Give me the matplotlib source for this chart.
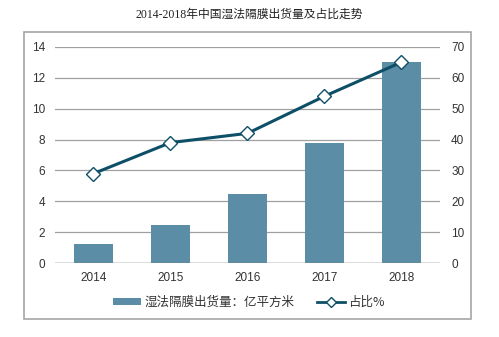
import matplotlib
matplotlib.use("Agg")
import matplotlib.pyplot as plt
from matplotlib.patches import Rectangle
from matplotlib.lines import Line2D
from matplotlib.patches import Patch

years = ["2014", "2015", "2016", "2017", "2018"]
shipments = [1.25, 2.5, 4.5, 7.8, 13.0]
share = [29, 39, 42, 54, 65]
left_ticks = [0, 2, 4, 6, 8, 10, 12, 14]
right_ticks = [0, 10, 20, 30, 40, 50, 60, 70]
title = "2014-2018年中国湿法隔膜出货量及占比走势"
bar_label = "湿法隔膜出货量：亿平方米"
line_label = "占比%"

cjk = ["Noto Sans CJK SC", "DejaVu Sans"]
plt.rcParams['font.family'] = ["Liberation Sans", "Noto Sans CJK SC", "DejaVu Sans"]

fig = plt.figure(figsize=(4.99, 3.37), dpi=100)
fig.patch.set_facecolor("white")

# outer frame
fig.patches.append(Rectangle((24/499, 1-319/337), (471-24)/499, (319-32)/337,
                             transform=fig.transFigure, fill=False,
                             edgecolor="#a6a6a6", linewidth=1.2))

ax = fig.add_axes([55/499, 1-263.3/337, (440-55)/499, (263.3-46.7)/337])
x = list(range(len(years)))
bar_color = "#5b8ea6"
line_color = "#0e4f68"

ax.set_ylim(0, 14)
ax.set_yticks(left_ticks)
ax.yaxis.grid(True, color="#a0a0a0", linewidth=0.9)
ax.set_axisbelow(True)
ax.bar(x, shipments, width=0.5, color=bar_color, zorder=2)
ax.set_xlim(-0.5, len(years)-0.5)
ax.set_xticks(x)
ax.set_xticklabels(years)
for s in ax.spines.values():
    s.set_visible(False)
ax.axhline(0, color="#808080", linewidth=1.0, zorder=3)
ax.tick_params(axis="both", length=0, labelsize=8.5, colors="#333333")
ax.tick_params(axis="x", pad=6)
ax.tick_params(axis="y", pad=7)

ax2 = ax.twinx()
ax2.set_ylim(0, 70)
ax2.set_yticks(right_ticks)
for s in ax2.spines.values():
    s.set_visible(False)
ax2.tick_params(axis="y", length=0, labelsize=8.5, colors="#333333", pad=8)
ax2.plot(x, share, color=line_color, linewidth=2.2, marker="D", markersize=7,
         markerfacecolor="white", markeredgecolor=line_color, markeredgewidth=1.0, zorder=4)

fig.text(0.5, 1-15/337, title, ha="center", va="center", fontsize=8.5,
         family=["Liberation Serif", "Noto Sans CJK SC", "DejaVu Sans"], color="#222222")

handles = [Patch(facecolor=bar_color, edgecolor="none"),
           Line2D([0], [0], color=line_color, linewidth=2, marker="D", markersize=5,
                  markerfacecolor="white", markeredgecolor=line_color)]
leg = fig.legend(handles, [bar_label, line_label], loc="center",
                 bbox_to_anchor=(249/499, 1-302/337), ncol=2, frameon=False,
                 prop={"family": cjk, "size": 9}, handlelength=2.2,
                 handleheight=0.5, columnspacing=1.8, handletextpad=0.3)
for t in leg.get_texts():
    t.set_color("#333333")

fig.savefig("out.png", dpi=100, facecolor="white")
